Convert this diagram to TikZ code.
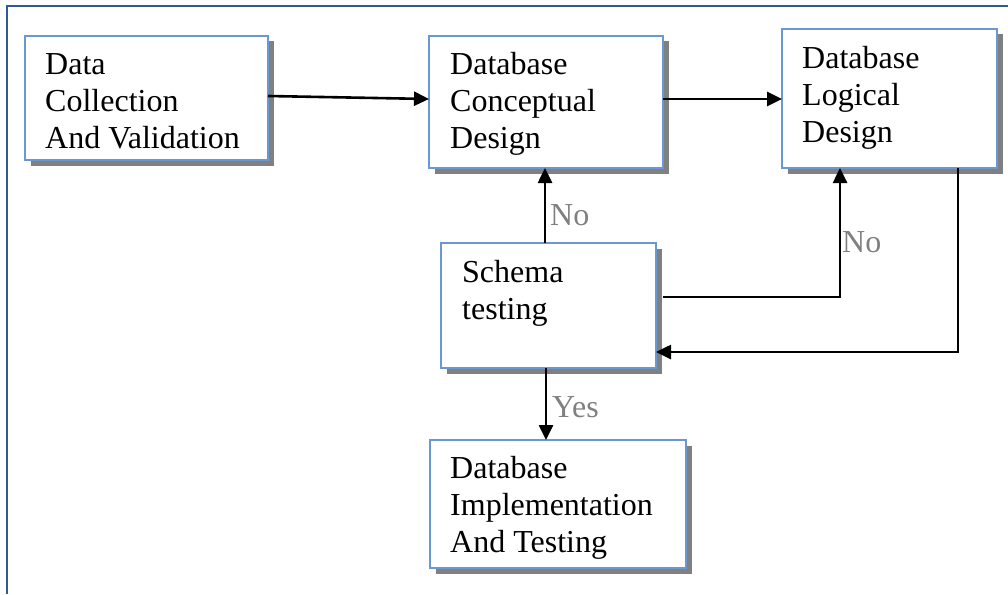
\documentclass[tikz,border=0pt]{standalone}
\usepackage{fontspec}
\setmainfont{Liberation Serif}
\usetikzlibrary{shadows,arrows.meta}
\definecolor{frameblue}{HTML}{2F5A94}
\definecolor{boxblue}{HTML}{6A98D4}
\definecolor{labelgray}{HTML}{808080}
\tikzset{
  box/.style={draw=boxblue,line width=1.3pt,fill=white,rectangle,inner sep=0pt,outer sep=0pt,anchor=north west,
    drop shadow={shadow xshift=5.5pt,shadow yshift=-5.5pt,fill=black!50,opacity=1}},
  boxtext/.style={anchor=base west,inner sep=0pt,align=left,font=\fontsize{32}{37}\selectfont},
  lbl/.style={anchor=base west,inner sep=0pt,text=labelgray,font=\fontsize{32}{37}\selectfont},
  conn/.style={line width=2.6pt,-{Triangle[length=15pt,width=14pt]}},
}
\begin{document}
\begin{tikzpicture}[x=1pt,y=-1pt]
\useasboundingbox (0,0) rectangle (1008,594);
\draw[frameblue,line width=2.5pt] (1008,6) -- (7,6) -- (7,594);

\node[box,minimum width=243pt,minimum height=124pt] (b1) at (25,36) {};
\node[box,minimum width=234pt,minimum height=132pt] (b2) at (429,36) {};
\node[box,minimum width=215pt,minimum height=139pt] (b3) at (782,29) {};
\node[box,minimum width=215pt,minimum height=125pt] (b4) at (441,243) {};
\node[box,minimum width=256pt,minimum height=128pt] (b5) at (430,440) {};

% anchor base = baseline of last line
\node[boxtext] (t1) at (45,148) {Data\\Collection\\And Validation};
\node[boxtext] (t2) at (450,148) {Database\\Conceptual\\Design};
\node[boxtext] (t3) at (802,142) {Database\\Logical\\Design};
\node[boxtext] (t4) at (462,319) {Schema\\testing};
\node[boxtext] (t5) at (450,552) {Database\\Implementation\\And Testing};

\draw[conn] ([yshift=2pt]b1.east) -- ([yshift=3pt]b2.west);
\draw[conn] ([yshift=3pt]b2.east) -- ([yshift=3pt]b2.east -| b3.west);
\draw[conn] ([xshift=-3.5pt]b4.north) -- ([xshift=-3.5pt]b4.north |- b2.south);
\draw[conn] ([shift={(7pt,8.5pt)}]b4.east) -| ([xshift=-49.5pt]b3.south);
\draw[conn] ([xshift=68.5pt]b3.south) |- ([yshift=-46.5pt]b4.east);
\draw[conn] ([xshift=-2.5pt]b4.south) -- ([xshift=-2.5pt]b4.south |- b5.north);

\node[lbl] (no1) at (550,225) {No};
\node[lbl] (no2) at (842,252) {No};
\node[lbl] (yes) at (552,417) {Yes};
\end{tikzpicture}
\end{document}
